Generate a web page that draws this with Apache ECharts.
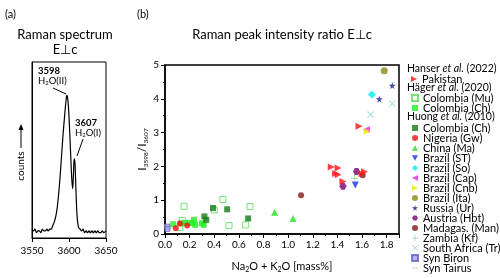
<!DOCTYPE html>
<html><head><meta charset="utf-8">
<script src="https://cdn.jsdelivr.net/npm/echarts@6/dist/echarts.min.js"></script>
<style>html,body{margin:0;padding:0;background:#fff}#c{width:500px;height:278px}</style>
</head><body><div id="c"></div>
<script>
// ---- Panel (a): Raman spectrum ----
const specX = [3550,3552,3554,3556,3558,3560,3562,3564,3566,3568,3570,3572,3574,3576,3578,3580,3582,3584,3586,3588,3590,3592,3594,3595,3596,3597,3598,3599,3600,3601,3602,3603,3604,3605,3606,3607,3608,3609,3610,3611,3612,3613,3615,3617,3619,3621,3623,3625,3627,3629,3631,3633,3635,3637,3639,3641,3643,3645,3647,3650];
const specY = [0.05,0.04,0.05,0.03,0.04,0.04,0.03,0.05,0.04,0.04,0.05,0.04,0.05,0.05,0.07,0.09,0.12,0.17,0.25,0.35,0.47,0.59,0.69,0.74,0.78,0.81,0.80,0.76,0.69,0.60,0.50,0.40,0.32,0.28,0.36,0.45,0.43,0.32,0.20,0.12,0.08,0.06,0.05,0.04,0.05,0.03,0.04,0.03,0.04,0.03,0.04,0.03,0.04,0.03,0.04,0.03,0.03,0.04,0.03,0.04];
const specTicks = [3550,3600,3650];

// ---- Panel (b): intensity ratio vs Na2O+K2O ----
const pakistan   = [[1.35,1.98],[1.405,1.95],[1.385,1.79],[1.405,1.75],[1.445,1.55],[1.62,1.84],[1.60,1.78],[1.575,3.19]];
const colMuHager = [[0.155,0.82],[0.14,0.40],[0.12,0.19],[0.40,0.71],[0.47,1.02],[0.52,0.25],[0.655,0.27],[0.69,0.81]];
const colChHager = [[0.065,0.29],[0.13,0.31],[0.16,0.33],[0.19,0.32],[0.22,0.33],[0.235,0.42],[0.245,0.27],[0.30,0.32],[0.315,0.27]];
const colChHuong = [[0.39,0.77],[0.32,0.52],[0.335,0.42],[0.505,0.73],[0.675,0.46]];
const nigeria    = [[0.087,0.17],[0.12,0.31],[0.18,0.25]];
const china      = [[0.89,0.64],[1.04,0.46]];
const brazilST   = [[1.545,1.45]];
const brazilSo   = [[1.68,4.13]];
const brazilCap  = [[1.635,3.09]];
const brazilCnb  = [[1.64,3.03]];
const brazilIta  = [[1.78,4.83]];
const russia     = [[1.74,3.99],[1.845,4.39]];
const austria    = [[1.555,1.85],[1.445,1.41]];
const madagascar = [[1.105,1.15],[1.605,1.74]];
const zambia     = [[1.54,1.65]];
const southAfr   = [[1.67,3.53],[1.845,3.86]];
const synBiron   = [[0.02,0.22],[0.02,0.15]];
const synTairus  = [[0.02,0.25]];
const xTicks = [0,0.2,0.4,0.6,0.8,1.0,1.2,1.4,1.6,1.8];
const yTicks = [0,1,2,3,4,5];

const FONT = 'Lato';
const star = 'path://M5,0L6.2,3.6L10,3.6L6.9,5.8L8.1,9.5L5,7.2L1.9,9.5L3.1,5.8L0,3.6L3.8,3.6Z';
const plus = 'path://M3.5,0H4.5V3.5H8V4.5H4.5V8H3.5V4.5H0V3.5H3.5Z';
const cross = 'path://M0.7,0L4,3.3L7.3,0L8,0.7L4.7,4L8,7.3L7.3,8L4,4.7L0.7,8L0,7.3L3.3,4L0,0.7Z';
const hexa = 'path://M2.5,0H7.5L10,4.33L7.5,8.66H2.5L0,4.33Z';
const dash = 'path://M0,0H10V2.5H0Z';
const triR = 'path://M0,0L10,5L0,10Z';
const triL = 'path://M10,0L0,5L10,10Z';
const triD = 'path://M0,0L10,0L5,9Z';
const triU = 'path://M5,0L10,9L0,9Z';

const labelMap = {'Colombia (Ch) H':'Colombia (Ch)','Colombia (Ch) U':'Colombia (Ch)'};

function sc(name, data, symbol, color, size, extra){
  return Object.assign({type:'scatter', name, data, xAxisIndex:1, yAxisIndex:1, symbol, symbolSize:size,
    itemStyle:{color}, emphasis:{disabled:true}, z:3}, extra||{});
}

const series = [
  {type:'line', data: specX.map((x,i)=>[x,specY[i]]), xAxisIndex:0, yAxisIndex:0, symbol:'none',
   lineStyle:{color:'#000', width:1.2}, smooth:0.3, silent:true},
  sc('Syn Tairus', synTairus, dash, '#ffcfae', [8,2]),
  sc('Syn Biron', synBiron, 'rect', '#a0a0ee', 5, {itemStyle:{color:'#a0a0ee', borderColor:'#6060cc', borderWidth:0.8}}),
  sc('Colombia (Mu)', colMuHager, 'rect', '#fff', 6, {itemStyle:{color:'rgba(255,255,255,0)', borderColor:'#55dd55', borderWidth:1}}),
  sc('Colombia (Ch) H', colChHager, 'rect', '#22ee22', 6),
  sc('Colombia (Ch) U', colChHuong, 'rect', '#157a15', 6),
  sc('Nigeria (Gw)', nigeria, 'circle', '#ee1111', 6),
  sc('China (Ma)', china, triU, '#22e022', 7),
  sc('Brazil (ST)', brazilST, triD, '#1030ee', 7),
  sc('Brazil (So)', brazilSo, 'diamond', '#00eeee', 8),
  sc('Brazil (Cap)', brazilCap, triL, '#ee22ee', 7),
  sc('Brazil (Cnb)', brazilCnb, triR, '#eeee00', 7),
  sc('Brazil (Ita)', brazilIta, 'circle', '#888811', 7),
  sc('Russia (Ur)', russia, star, '#1a1a88', 7),
  sc('Austria (Hbt)', austria, hexa, '#7a007a', 7),
  sc('Madagas. (Man)', madagascar, 'circle', '#801818', 6),
  sc('Zambia (Kf)', zambia, plus, '#88cc88', 7),
  sc('South Africa (Tr)', southAfr, cross, '#88cccc', 7),
  sc('Pakistan', pakistan, triR, '#ff1010', 7)
];

const legBase = {orient:'vertical', left:411, padding:0, itemWidth:6, itemHeight:6, itemGap:-1,
  selectedMode:false, textStyle:{fontFamily:FONT, fontSize:11, color:'#000', padding:[0,0,0,0]},
  formatter: n => labelMap[n] || n};
const legends = [
  Object.assign({}, legBase, {top:73.5, data:['Pakistan']}),
  Object.assign({}, legBase, {top:92.5, data:['Colombia (Mu)','Colombia (Ch) H']}),
  Object.assign({}, legBase, {top:122.5, data:['Colombia (Ch) U','Nigeria (Gw)','China (Ma)','Brazil (ST)','Brazil (So)','Brazil (Cap)','Brazil (Cnb)','Brazil (Ita)','Russia (Ur)','Austria (Hbt)','Madagas. (Man)','Zambia (Kf)','South Africa (Tr)','Syn Biron','Syn Tairus']})
];

function header(y, a, b){
  return {type:'text', x:407, y, style:{text:'{n|'+a+' }{i|et al.}{n| '+b+'}', verticalAlign:'middle',
    rich:{n:{fontFamily:FONT, fontSize:10.5, fill:'#000'}, i:{fontFamily:FONT, fontSize:10.5, fontStyle:'italic', fill:'#000'}}}};
}
const t = (x,y,text,opt) => ({type:'text', x, y, style:Object.assign({text, fontFamily:FONT, fontSize:10, fill:'#000', verticalAlign:'middle'}, opt||{})});

const graphic = [
  t(5,14,'(a)',{fontSize:11}),
  t(137,14,'(b)',{fontSize:11}),
  t(65,35,'Raman spectrum',{fontSize:13, align:'center'}),
  t(65,50,'E\u22A5c',{fontSize:13, align:'center'}),
  t(282,35,'Raman peak intensity ratio E\u22A5c',{fontSize:13, align:'center'}),
  t(38,71,'3598',{fontWeight:'bold', fontSize:9.5}),
  {type:'text', x:38, y:81, style:{text:'{a|H}{s|2}{a|O(II)}', verticalAlign:'middle', rich:{a:{fontFamily:FONT,fontSize:9.5,fill:'#000'}, s:{fontFamily:FONT,fontSize:6,fill:'#000',padding:[5,0,0,0]}}}},
  {type:'line', shape:{x1:53,y1:88,x2:66,y2:94}, style:{stroke:'#000', lineWidth:1}},
  t(75,123,'3607',{fontWeight:'bold', fontSize:9.5}),
  {type:'text', x:75, y:133, style:{text:'{a|H}{s|2}{a|O(I)}', verticalAlign:'middle', rich:{a:{fontFamily:FONT,fontSize:9.5,fill:'#000'}, s:{fontFamily:FONT,fontSize:6,fill:'#000',padding:[5,0,0,0]}}}},
  {type:'line', shape:{x1:83,y1:139,x2:77,y2:156}, style:{stroke:'#000', lineWidth:1}},
  {type:'text', x:21, y:166, rotation:Math.PI/2, style:{text:'counts', fontFamily:FONT, fontSize:10, fill:'#000', align:'center', verticalAlign:'middle'}},
  {type:'line', shape:{x1:21,y1:148,x2:21,y2:128}, style:{stroke:'#000', lineWidth:1}},
  {type:'polygon', shape:{points:[[21,124],[18.5,130],[23.5,130]]}, style:{fill:'#000'}},
  header(69,'Hanser','(2022)'),
  header(88,'H\u00e4ger','(2020)'),
  header(117,'Huong','(2010)')
];

const axLab = {fontFamily:FONT, fontSize:10, color:'#000'};
const option = {
  animation:false,
  grid:[
    {left:32, top:62, width:74, height:176, show:true, borderColor:'#000', borderWidth:1},
    {left:165, top:65, width:234, height:173, show:true, borderColor:'#000', borderWidth:1.5}
  ],
  xAxis:[
    {type:'value', gridIndex:0, min:specTicks[0], max:specTicks[specTicks.length-1], interval:50,
     axisLine:{lineStyle:{color:'#000', width:1}}, axisTick:{show:true, length:4, lineStyle:{color:'#000'}},
     axisLabel:Object.assign({margin:8, fontSize:9.5, formatter:v=>String(v)}, axLab), splitLine:{show:false}},
    {type:'value', gridIndex:1, min:xTicks[0], max:1.9, interval:0.2,
     axisLine:{lineStyle:{color:'#000', width:1.5}}, axisTick:{length:4, lineStyle:{color:'#000'}},
     minorTick:{show:true, splitNumber:2, length:2, lineStyle:{color:'#000'}},
     axisLabel:Object.assign({margin:6, showMaxLabel:false, formatter:v=>xTicks.some(k=>Math.abs(k-v)<1e-6)?v.toFixed(1):''}, axLab),
     splitLine:{show:false},
     name:'{a|Na}{s|2}{a|O + K}{s|2}{a|O [mass%]}', nameLocation:'middle', nameGap:26,
     nameTextStyle:{rich:{a:{fontFamily:FONT,fontSize:11,color:'#000'}, s:{fontFamily:FONT,fontSize:7,color:'#000',padding:[6,0,0,0]}}}}
  ],
  yAxis:[
    {type:'value', gridIndex:0, min:0, max:1, axisLine:{show:true, lineStyle:{color:'#000'}}, axisTick:{show:false},
     axisLabel:{show:false}, splitLine:{show:false}},
    {type:'value', gridIndex:1, min:yTicks[0], max:yTicks[yTicks.length-1], interval:1,
     axisLine:{show:true, lineStyle:{color:'#000', width:1.5}}, axisTick:{show:true, length:4, lineStyle:{color:'#000'}},
     minorTick:{show:true, splitNumber:2, length:2, lineStyle:{color:'#000'}},
     axisLabel:Object.assign({margin:6}, axLab), splitLine:{show:false},
     name:'{a|I}{s|3598}{a|/I}{s|3607}', nameLocation:'middle', nameGap:14, nameRotate:90,
     nameTextStyle:{rich:{a:{fontFamily:FONT,fontSize:12,color:'#000'}, s:{fontFamily:FONT,fontSize:6.5,color:'#000',padding:[7,0,0,0]}}}}
  ],
  legend:legends,
  graphic:graphic,
  series:series
};
const chart = echarts.init(document.getElementById('c'), null, {renderer:'canvas'});
chart.setOption(option);
</script></body></html>
